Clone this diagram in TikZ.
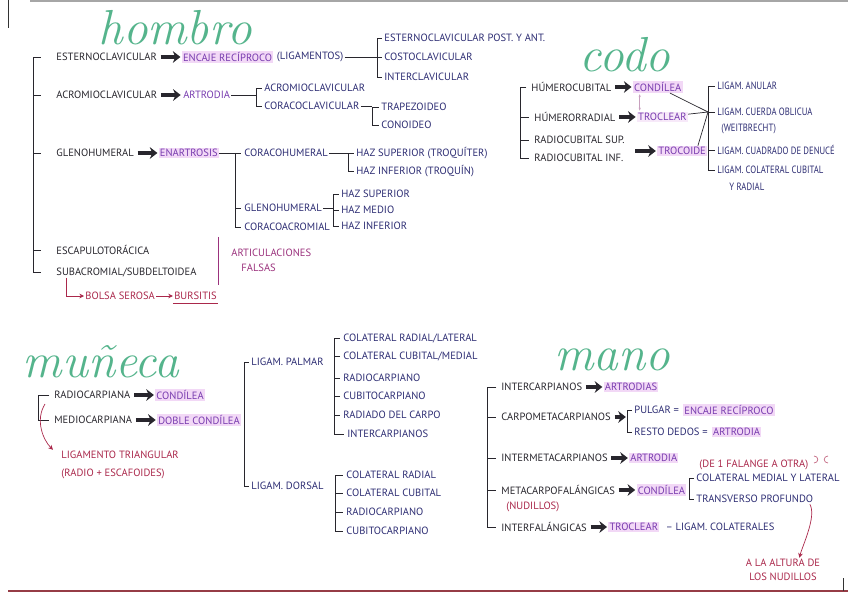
\documentclass[tikz,border=0pt]{standalone}
\usepackage{fontspec}
\newfontfamily\letra{PT Sans}
\newfontfamily\letrafina[FakeStretch=0.82]{PT Sans}
\usetikzlibrary{positioning,arrows.meta}
\definecolor{tinta}{RGB}{40,38,45}
\definecolor{marino}{RGB}{45,45,115}
\definecolor{morado}{RGB}{120,60,175}
\definecolor{resalte}{RGB}{242,216,246}
\definecolor{resalteclaro}{RGB}{247,233,249}
\definecolor{granate}{RGB}{170,40,75}
\definecolor{verde}{RGB}{85,180,140}
\definecolor{magentaf}{RGB}{155,50,125}
\definecolor{rosagris}{RGB}{200,160,190}
\definecolor{borde}{RGB}{150,60,70}

\begin{document}
\begin{tikzpicture}[
    x=0.03cm, y=-0.03cm,
    every node/.style={font=\letra\fontsize{9}{10}\selectfont, inner sep=1pt},
    titulo/.style={font=\rmfamily\itshape\fontsize{42}{42}\selectfont, text=verde},
    negro/.style={anchor=west, text=tinta},
    lig/.style={anchor=west, text=marino},
    ligfina/.style={anchor=west, text=marino, font=\letrafina\fontsize{9}{10}\selectfont},
    nota/.style={anchor=west, text=granate},
    falsa/.style={anchor=west, text=magentaf},
    tipo/.style={anchor=west, text=morado, fill=resalte},
    tipoclaro/.style={anchor=west, text=morado, fill=resalteclaro},
    tiposin/.style={anchor=west, text=morado},
    flecha/.style={-{Stealth[length=6.5pt,width=10pt]}, line width=3pt, draw=tinta, shorten <=2pt, shorten >=1pt},
    flecharoja/.style={-{Stealth[length=4pt,width=4pt]}, draw=granate, line width=0.6pt},
    doble/.style={{Stealth[length=2.5pt]}-{Stealth[length=2.5pt]}, draw=rosagris, line width=0.5pt},
    garabato/.style={draw=granate!70, line width=0.6pt},
    br/.style={draw=tinta, line width=0.6pt}
  ]
  \useasboundingbox (0,0) rectangle (848,599);

  % bordes del papel
  \draw[gray!70, line width=1pt] (30,1) -- (848,1);
  \draw[black!80, line width=0.8pt] (8,0) -- (8,28);
  \draw[borde, line width=1.2pt] (8,591) -- (848,591);
  \draw[black!80, line width=0.6pt] (843,578) -- (843,591);

  % hombro
  \node[titulo] (hombro) at (175,28) {hombro};
  \coordinate (cH) at (33,0);
  \node[negro] (ester) at (55,57) {ESTERNOCLAVICULAR};
  \node[negro] (acromio) at (55,95) {ACROMIOCLAVICULAR};
  \node[negro] (gleno) at (55,153) {GLENOHUMERAL};
  \node[negro] (escap) at (55,250) {ESCAPULOTORÁCICA};
  \node[negro] (subacro) at (55,272) {SUBACROMIAL/SUBDELTOIDEA};
  \draw[br] ([xshift=-12pt]ester.west) -| (cH |- subacro.west) -- ([xshift=-12pt]subacro.west);
  \draw[br] (cH |- acromio.west) -- ([xshift=-12pt]acromio.west);
  \draw[br] (cH |- gleno.west) -- ([xshift=-12pt]gleno.west);
  \draw[br] (cH |- escap.west) -- ([xshift=-12pt]escap.west);

  \node[tipo, right=7mm of ester] (encaje1) {ENCAJE RECÍPROCO};
  \node[lig, right=0.6mm of encaje1] (ligam1) {(LIGAMENTOS)};
  \draw[flecha] (ester) -- (encaje1);
  \coordinate (cE) at (377,0);
  \node[lig] (esterpost) at (383,38) {ESTERNOCLAVICULAR POST. Y ANT.};
  \node[lig] (costo) at (383,57) {COSTOCLAVICULAR};
  \node[lig] (intercla) at (383,77) {INTERCLAVICULAR};
  \draw[br] ([xshift=-1pt]esterpost.west) -| (cE |- intercla.west) -- ([xshift=-1pt]intercla.west);
  \draw[br] (ligam1) -- ([xshift=-1pt]costo.west);

  \node[tiposin, right=7mm of acromio] (artro1) {ARTRODIA};
  \draw[flecha] (acromio) -- (artro1);
  \coordinate (cA) at (256,0);
  \node[lig] (acrolig) at (263,88) {ACROMIOCLAVICULAR};
  \node[lig] (coracocla) at (263,106) {CORACOCLAVICULAR};
  \draw[br] ([xshift=-1pt]acrolig.west) -| (cA |- coracocla.west) -- ([xshift=-1pt]coracocla.west);
  \draw[br] (artro1) -- (artro1 -| cA);
  \coordinate (cCc) at (372,0);
  \node[lig] (trapez) at (380,107) {TRAPEZOIDEO};
  \node[lig] (conoid) at (380,125) {CONOIDEO};
  \draw[br] (coracocla) -- (coracocla -| cCc);
  \draw[br] ([xshift=-1pt]trapez.west) -| (cCc |- conoid.west) -- ([xshift=-1pt]conoid.west);

  \node[tipo, right=7mm of gleno] (enartro) {ENARTROSIS};
  \draw[flecha] (gleno) -- (enartro);
  \coordinate (cG) at (235,0);
  \node[lig] (coracohum) at (243,153) {CORACOHUMERAL};
  \node[lig] (glenolig) at (243,208) {GLENOHUMERAL};
  \node[lig] (coracoacro) at (243,227) {CORACOACROMIAL};
  \draw[br] (enartro) -- ([xshift=-2pt]coracohum.west);
  \draw[br] (cG |- coracohum.west) |- ([xshift=-2pt]coracoacro.west);
  \draw[br] (cG |- glenolig.west) -- ([xshift=-2pt]glenolig.west);
  \coordinate (cC) at (348,0);
  \node[lig] (hazsup1) at (355,153) {HAZ SUPERIOR (TROQUÍTER)};
  \node[lig] (hazinf1) at (355,171) {HAZ INFERIOR (TROQUÍN)};
  \draw[br] (coracohum) -- (coracohum -| cC);
  \draw[br] ([xshift=-1pt]hazsup1.west) -| (cC |- hazinf1.west) -- ([xshift=-1pt]hazinf1.west);
  \coordinate (cGl) at (333,0);
  \node[lig] (hazsup2) at (340,194) {HAZ SUPERIOR};
  \node[lig] (hazmed) at (340,210) {HAZ MEDIO};
  \node[lig] (hazinf2) at (340,226) {HAZ INFERIOR};
  \draw[br] (glenolig) -- (glenolig -| cGl);
  \draw[br] ([xshift=-1pt]hazsup2.west) -| (cGl |- hazinf2.west) -- ([xshift=-1pt]hazinf2.west);
  \draw[br] (cGl |- hazmed.west) -- ([xshift=-1pt]hazmed.west);

  \draw[magentaf, line width=0.7pt] (218,237) -- (218,285);
  \node[falsa] (artic) at (230,253) {ARTICULACIONES};
  \node[falsa] (falsas) at (240,268) {FALSAS};

  \node[nota] (bolsa) at (84,296) {BOLSA SEROSA};
  \node[nota, right=5mm of bolsa] (bursitis) {BURSITIS};
  \draw[flecharoja] ([xshift=10pt]subacro.south west) |- (bolsa);
  \draw[flecharoja] (bolsa) -- (bursitis);
  \draw[granate, line width=0.6pt] ([yshift=-2pt]bursitis.south west) -- ([yshift=-2pt]bursitis.south east);

  % codo
  \node[titulo] (codo) at (625,55) {codo};
  \coordinate (cCo) at (520,0);
  \node[negro] (humcub) at (530,87) {HÚMEROCUBITAL};
  \node[negro] (humrad) at (533,117) {HÚMERORRADIAL};
  \node[negro] (radsup) at (533,140) {RADIOCUBITAL SUP.};
  \node[negro] (radinf) at (533,158) {RADIOCUBITAL INF.};
  \draw[br] ([xshift=-3pt]humcub.west) -| (cCo |- radinf.west) -- ([xshift=-3pt]radinf.west);
  \draw[br] (cCo |- humrad.west) -- ([xshift=-3pt]humrad.west);
  \draw[br] (cCo |- radsup.west) -- ([xshift=-3pt]radsup.west);
  \node[tipo, right=6mm of humcub] (condilea1) {CONDÍLEA};
  \node[tipoclaro, right=6mm of humrad] (troclear1) {TROCLEAR};
  \node[tipo] (trocoide) at (657,151) {TROCOIDE};
  \coordinate (radjunta) at (633,151);
  \draw[flecha] (humcub) -- (condilea1);
  \draw[flecha] (humrad) -- (troclear1);
  \draw[flecha] (radjunta) -- (trocoide);
  \coordinate (dA) at ([xshift=6pt,yshift=-1pt]condilea1.south west);
  \draw[doble] (dA) -- ([yshift=1pt]dA |- troclear1.north);
  \coordinate (nudo) at (708,112);
  \draw[br] (condilea1) -- (nudo);
  \draw[br] (troclear1) -- (nudo);
  \draw[br] ([xshift=-8pt]trocoide.north east) -- (nudo);
  \coordinate (cL) at (708,0);
  \node[ligfina] (ligA) at (716,86) {LIGAM. ANULAR};
  \node[ligfina] (ligB) at (716,112) {LIGAM. CUERDA OBLICUA};
  \node[ligfina] (weit) at (720,129) {(WEITBRECHT)};
  \node[ligfina] (ligC) at (716,150) {LIGAM. CUADRADO DE DENUCÉ};
  \node[ligfina] (ligD) at (716,170) {LIGAM. COLATERAL CUBITAL};
  \node[ligfina] (yrad) at (728,187) {Y RADIAL};
  \draw[br] ([xshift=-1pt]ligA.west) -| (cL |- ligD.west) -- ([xshift=-1pt]ligD.west);
  \draw[br] (nudo) -- ([xshift=-1pt]ligB.west);
  \draw[br] (cL |- ligC.west) -- ([xshift=-1pt]ligC.west);

  % muñeca
  \node[titulo] (muneca) at (101,362) {muñeca};
  \coordinate (cM) at (38,0);
  \node[negro] (radioc) at (53,395) {RADIOCARPIANA};
  \node[negro] (medioc) at (53,420) {MEDIOCARPIANA};
  \draw[br] ([xshift=-3pt]radioc.west) -| (cM |- medioc.west) -- ([xshift=-3pt]medioc.west);
  \node[tipo, right=7mm of radioc] (condilea2) {CONDÍLEA};
  \node[tipo, right=7mm of medioc] (doble) {DOBLE CONDÍLEA};
  \draw[flecha] (radioc) -- (condilea2);
  \draw[flecha] (medioc) -- (doble);
  \coordinate (salida) at (45,404);
  \node[nota] (ligtri) at (60,455) {LIGAMENTO TRIANGULAR};
  \node[nota] (radesc) at (60,474) {(RADIO + ESCAFOIDES)};
  \draw[flecharoja] (salida) .. controls +(-10,16) and +(-10,-10) .. ([xshift=-6pt]ligtri.north west);

  \coordinate (cLg) at (244,0);
  \node[lig] (palmar) at (250,362) {LIGAM. PALMAR};
  \node[lig] (dorsal) at (250,486) {LIGAM. DORSAL};
  \draw[br] ([xshift=-1pt]palmar.west) -| (cLg |- dorsal.west) -- ([xshift=-1pt]dorsal.west);
  \coordinate (cPa) at (334,0);
  \node[lig] (colrad) at (342,338) {COLATERAL RADIAL/LATERAL};
  \node[lig] (colcub) at (342,356) {COLATERAL CUBITAL/MEDIAL};
  \node[lig] (radcarp) at (342,378) {RADIOCARPIANO};
  \node[lig] (cubcarp) at (342,396) {CUBITOCARPIANO};
  \node[lig] (radiado) at (342,415) {RADIADO DEL CARPO};
  \node[lig] (intercarp) at (346,434) {INTERCARPIANOS};
  \draw[br] ([xshift=-2pt]colrad.west) -| (cPa |- intercarp.west) -- ([xshift=-2pt]intercarp.west);
  \draw[br] (cPa |- colcub.west) -- ([xshift=-2pt]colcub.west);
  \draw[br] (cPa |- radcarp.west) -- ([xshift=-2pt]radcarp.west);
  \draw[br] (cPa |- cubcarp.west) -- ([xshift=-2pt]cubcarp.west);
  \draw[br] (cPa |- radiado.west) -- ([xshift=-2pt]radiado.west);
  \coordinate (cDo) at (335,0);
  \node[lig] (dcolrad) at (345,475) {COLATERAL RADIAL};
  \node[lig] (dcolcub) at (345,493) {COLATERAL CUBITAL};
  \node[lig] (dradcarp) at (345,512) {RADIOCARPIANO};
  \node[lig] (dcubcarp) at (345,531) {CUBITOCARPIANO};
  \draw[br] ([xshift=-2pt]dcolrad.west) -| (cDo |- dcubcarp.west) -- ([xshift=-2pt]dcubcarp.west);
  \draw[br] (cDo |- dcolcub.west) -- ([xshift=-2pt]dcolcub.west);
  \draw[br] (cDo |- dradcarp.west) -- ([xshift=-2pt]dradcarp.west);

  % mano
  \node[titulo] (mano) at (612,360) {mano};
  \coordinate (cMa) at (487,0);
  \node[negro] (ic) at (500,387) {INTERCARPIANOS};
  \node[negro] (cmc) at (500,417) {CARPOMETACARPIANOS};
  \node[negro] (imc) at (500,458) {INTERMETACARPIANOS};
  \node[negro] (mcf) at (500,490) {METACARPOFALÁNGICAS};
  \node[negro] (ifl) at (500,527) {INTERFALÁNGICAS};
  \draw[br] ([xshift=-3pt]ic.west) -| (cMa |- ifl.west) -- ([xshift=-3pt]ifl.west);
  \draw[br] (cMa |- cmc.west) -- ([xshift=-3pt]cmc.west);
  \draw[br] (cMa |- imc.west) -- ([xshift=-3pt]imc.west);
  \draw[br] (cMa |- mcf.west) -- ([xshift=-3pt]mcf.west);

  \node[tipo, right=6mm of ic] (artrodias) {ARTRODIAS};
  \draw[flecha] (ic) -- (artrodias);
  \coordinate (cCm) at (627,0);
  \node[lig] (pulgar) at (633,410) {PULGAR =};
  \node[tipo, right=0.8mm of pulgar] (encaje2) {ENCAJE RECÍPROCO};
  \node[lig] (resto) at (633,432) {RESTO DEDOS =};
  \node[tipo, right=0.8mm of resto] (artro2) {ARTRODIA};
  \draw[br] ([xshift=-1pt]pulgar.west) -| (cCm |- resto.west) -- ([xshift=-1pt]resto.west);
  \draw[flecha] (cmc) -- (cmc -| cCm);

  \node[tipo, right=6mm of imc] (artro3) {ARTRODIA};
  \draw[flecha] (imc) -- (artro3);

  \node[tipo, right=6mm of mcf] (condilea3) {CONDÍLEA};
  \draw[flecha] (mcf) -- (condilea3);
  \node[nota] (nudillos) at (505,507) {(NUDILLOS)};
  \node[nota] (falange) at (698,465) {(DE 1 FALANGE A OTRA)};
  \draw[garabato] (814,456) .. controls (819,456) and (819,463) .. (814,463);
  \draw[garabato] (828,456) .. controls (823,456) and (823,463) .. (828,463);
  \coordinate (cMf) at (689,0);
  \node[lig] (colmed) at (695,478) {COLATERAL MEDIAL Y LATERAL};
  \node[lig] (transv) at (695,499) {TRANSVERSO PROFUNDO};
  \draw[br] ([xshift=-1pt]colmed.west) -| (cMf |- transv.west) -- ([xshift=-1pt]transv.west);
  \node[nota, anchor=center, align=center] (altura) at (783,570) {A LA ALTURA DE\\[2pt]LOS NUDILLOS};
  \draw[flecharoja] ([xshift=-4pt]transv.south east) .. controls +(7,12) and +(3,-12) .. ([xshift=14pt]altura.north);

  \node[tipo, right=6mm of ifl] (troclear2) {TROCLEAR};
  \node[lig, right=1.5mm of troclear2] (colat2) {– LIGAM. COLATERALES};
  \draw[flecha] (ifl) -- (troclear2);
\end{tikzpicture}
\end{document}
